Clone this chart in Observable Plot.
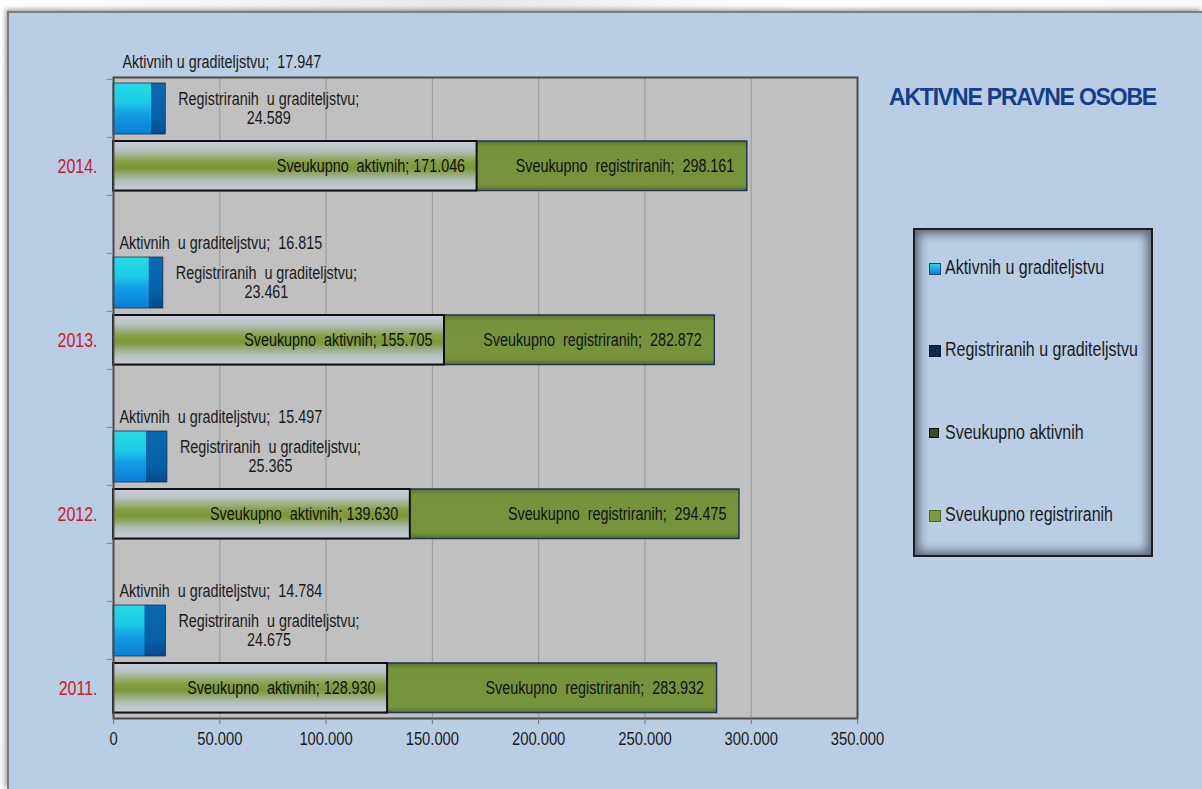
<!DOCTYPE html>
<html>
<head>
<meta charset="utf-8">
<script src="https://cdn.jsdelivr.net/npm/d3@7"></script>
<script src="https://cdn.jsdelivr.net/npm/@observablehq/plot@0.6"></script>
<style>
  html, body { margin: 0; padding: 0; width: 1202px; height: 789px; overflow: hidden; }
  body { background: linear-gradient(100deg, #ffffff 0%, #e9e9e9 35%, #ffffff 60%, #f6f6f6 100%); position: relative; }
  #panel { position: absolute; left: 7px; top: 11px; right: 0; bottom: 0; background: #b9cde5;
           border-top: 2px solid #7d7d7d; border-left: 2px solid #7d7d7d;
           box-shadow: -2px -2px 4px rgba(90,90,90,0.5); }
  #chart { position: absolute; left: 0; top: 0; }
  #chart text { white-space: pre; }
  #title { position: absolute; left: 889px; top: 84px; font: bold 23px "Liberation Sans", Arial, sans-serif;
           letter-spacing: -1.2px; color: #143f88; white-space: nowrap; }
  #legend { position: absolute; left: 913px; top: 228px; width: 236px; height: 325px; border: 2px solid #1e1e1e;
            background: #b9cde5; box-shadow: inset 0 0 10px 4px rgba(20,20,30,0.55); }
  .li { position: absolute; left: 14px; white-space: nowrap; color: #1a1a1a; }
  .sw { position: absolute; left: 0; width: 10px; height: 10px; }
  .lt { position: absolute; left: 16px; line-height: 1; transform-origin: 0 50%; }
</style>
</head>
<body>
<div id="panel"></div>
<div id="chart"></div>
<div id="title">AKTIVNE PRAVNE OSOBE</div>
<div id="legend"></div>
<script>
// ---- data ----
const years = ["2014.", "2013.", "2012.", "2011."];
const aktivniGraditeljstvo = [17947, 16815, 15497, 14784];
const registriraniGraditeljstvo = [24589, 23461, 25365, 24675];
const sveukupnoAktivni = [171046, 155705, 139630, 128930];
const sveukupnoRegistrirani = [298161, 282872, 294475, 283932];
const xTicks = [0, 50000, 100000, 150000, 200000, 250000, 300000, 350000];
const seriesNames = ["Aktivnih u graditeljstvu", "Registriranih u graditeljstvu", "Sveukupno aktivnih", "Sveukupno registriranih"];

// ---- font detection: use a narrow face if present, else compress glyphs ----
function hasFont(name) {
  const c = document.createElement("canvas").getContext("2d");
  const s = "abcdefghijklmnopqrstuvwxyzWWW0123";
  c.font = "40px monospace"; const a = c.measureText(s).width;
  c.font = `40px '${name}', monospace`; const b = c.measureText(s).width;
  return Math.abs(a - b) > 0.5;
}
const narrow = hasFont("Liberation Sans Narrow");
const FONT = narrow ? "'Liberation Sans Narrow', 'Liberation Sans', Arial, sans-serif" : "'Liberation Sans', Arial, sans-serif";
const SQUEEZE = narrow ? 1 : 0.82;
const FS = 17.5;
const LFS = 19.5;

const loc = d3.formatLocale({decimal: ",", thousands: ".", grouping: [3], currency: ["", ""]});
const fmt = loc.format(",");

// rows: construction row (g), total row (s), spacer rows between years
const rowDomain = years.flatMap((y, i) => i < years.length - 1 ? [y + "g", y + "s", "gap" + i] : [y + "g", y + "s"]);
const gradRows = years.map((y, i) => ({row: y + "g", year: y, akt: aktivniGraditeljstvo[i], reg: registriraniGraditeljstvo[i]}));
const totRows = years.map((y, i) => ({row: y + "s", year: y, akt: sveukupnoAktivni[i], reg: sveukupnoRegistrirani[i]}));

const bandH = (718 - 77) / rowDomain.length;

const chart = Plot.plot({
  width: 1202, height: 789,
  marginLeft: 113, marginRight: 345, marginTop: 77, marginBottom: 71,
  style: {background: "transparent", fontFamily: FONT, fontSize: FS + "px", color: "#1a1a1a"},
  x: {domain: [0, 350000]},
  y: {domain: rowDomain, padding: 0},
  marks: [
    Plot.frame({fill: "#c0c0c0"}),
    Plot.gridX(xTicks, {stroke: "#8c8c8c", strokeOpacity: 0.75, strokeWidth: 1}),
    // construction bars
    Plot.barX(gradRows, {x: "reg", y: "row", fill: "url(#gReg)", stroke: "#17304f", strokeWidth: 0.8, insetTop: 4, insetBottom: 3}),
    Plot.barX(gradRows, {x: "akt", y: "row", fill: "url(#gAkt)", insetTop: 4.5, insetBottom: 3.5}),
    // totals bars
    Plot.barX(totRows, {x: "reg", y: "row", fill: "url(#gSvReg)", stroke: "#1f3556", strokeWidth: 1.5, insetTop: 4, insetBottom: 4.5}),
    Plot.barX(totRows, {x: "akt", y: "row", fill: "url(#gSvAkt)", stroke: "#111", strokeWidth: 2, insetTop: 4, insetBottom: 4.5}),
    Plot.frame({stroke: "#4a4a4a", strokeWidth: 2}),
    // labels
    Plot.text(gradRows.filter(d => d.year === years[0]), {x: 0, y: "row", text: d => `Aktivnih u graditeljstvu;  ${fmt(d.akt)}`, textAnchor: "start", dx: 9, dy: -46, fill: "#1a1a1a"}),
    Plot.text(gradRows.filter(d => d.year !== years[0]), {x: 0, y: "row", text: d => `Aktivnih  u graditeljstvu;  ${fmt(d.akt)}`, textAnchor: "start", dx: 6, dy: -39, fill: "#1a1a1a"}),
    Plot.text(gradRows, {x: "reg", y: "row", text: d => `Registriranih  u graditeljstvu;\n${fmt(d.reg)}`, textAnchor: "middle", dx: 103, lineHeight: 1.09, fill: "#1a1a1a"}),
    Plot.text(totRows, {x: "akt", y: "row", text: d => `Sveukupno  aktivnih; ${fmt(d.akt)}`, textAnchor: "end", dx: -12, fill: "#111"}),
    Plot.text(totRows, {x: "reg", y: "row", text: d => `Sveukupno  registriranih;  ${fmt(d.reg)}`, textAnchor: "end", dx: -13, fill: "#111"}),
    // axes
    Plot.axisX({ticks: xTicks, tickFormat: d => d === 0 ? "0" : fmt(d), tickSize: 6, tickPadding: 8, stroke: "#7a7a7a", fill: "#1a1a1a", label: null, fontSize: 18}),
    Plot.axisY({tickSize: 0, tickPadding: 16, tickFormat: d => d.endsWith("s") ? d.slice(0, -1) : "", fill: "#c8202a", label: null, fontSize: 19.5}),
    Plot.axisY({tickSize: 6, fill: "none", stroke: "#8a8a8a", dy: -bandH / 2, label: null})
  ]
});

// gradients
const ns = "http://www.w3.org/2000/svg";
const defs = document.createElementNS(ns, "defs");
function grad(id, stops) {
  const g = document.createElementNS(ns, "linearGradient");
  g.setAttribute("id", id); g.setAttribute("x1", "0"); g.setAttribute("y1", "0"); g.setAttribute("x2", "0"); g.setAttribute("y2", "1");
  for (const [o, c] of stops) {
    const s = document.createElementNS(ns, "stop");
    s.setAttribute("offset", o); s.setAttribute("stop-color", c); g.appendChild(s);
  }
  defs.appendChild(g);
}
grad("gAkt", [["0", "#26dbe4"], ["0.38", "#1ccbe6"], ["0.62", "#129de4"], ["1", "#0a7fd6"]]);
grad("gReg", [["0", "#0b69b2"], ["0.7", "#0460a8"], ["1", "#034a88"]]);
grad("gSvAkt", [["0", "#c7ccdb"], ["0.18", "#b9c2c4"], ["0.42", "#86a043"], ["0.55", "#7c9736"], ["0.8", "#b3bfbb"], ["1", "#c9cedc"]]);
grad("gSvReg", [["0", "#5d742f"], ["0.12", "#76923b"], ["0.88", "#77933c"], ["1", "#5b722e"]]);
chart.insertBefore(defs, chart.firstChild);
document.getElementById("chart").appendChild(chart);

// narrow the glyphs (Arial Narrow look) when no narrow face is installed
if (SQUEEZE !== 1) {
  chart.querySelectorAll("text").forEach(t => {
    const spans = t.querySelectorAll("tspan");
    const els = spans.length ? [...spans] : [t];
    els.forEach(el => {
      const w = el.getComputedTextLength();
      if (w > 0) { el.setAttribute("textLength", (w * SQUEEZE).toFixed(2)); el.setAttribute("lengthAdjust", "spacingAndGlyphs"); }
    });
  });
}

// legend
const legend = document.getElementById("legend");
const swatches = [
  "background: linear-gradient(#2ad8e6, #0a82d8); border: 0.5px solid #1b4a7a;",
  "background: #0b2a4d; border: 0.5px solid #081a30;",
  "background: #3b4a2c; border: 1.5px solid #111; width: 8px; height: 8px;",
  "background: #7c9a3c; border: 0.5px solid #50652a;"
];
const itemY = [40, 122, 205, 287];
seriesNames.forEach((name, i) => {
  const d = document.createElement("div");
  d.className = "li";
  d.style.top = (itemY[i] - 2) + "px";
  d.style.fontFamily = FONT;
  d.style.fontSize = LFS + "px";
  d.innerHTML = `<div class="sw" style="top:-5px;${swatches[i]}"></div><div class="lt" style="top:-${LFS * 0.5}px;transform:scaleX(${SQUEEZE})">${name}</div>`;
  legend.appendChild(d);
});
</script>
</body>
</html>
